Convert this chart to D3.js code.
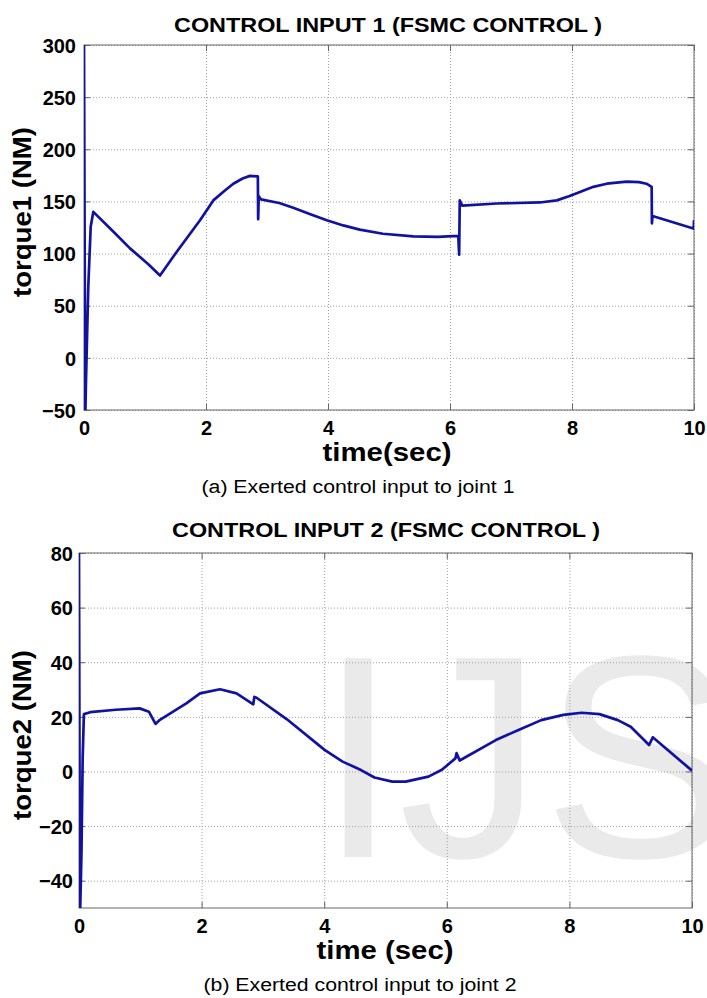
<!DOCTYPE html>
<html>
<head>
<meta charset="utf-8">
<script src="https://cdn.jsdelivr.net/npm/d3@7"></script>
<style>
  body { margin: 0; background: #fff; }
  svg text { font-family: "Liberation Sans", Arial, sans-serif; }
</style>
</head>
<body>
<svg id="chart"></svg>
<script>
// tick values
const xTicks = [0, 2, 4, 6, 8, 10];
const yTicks1 = [-50, 0, 50, 100, 150, 200, 250, 300];
const yTicks2 = [-40, -20, 0, 20, 40, 60, 80];

// joint 1 torque
const time1 = [0, 0.02, 0.033, 0.07, 0.11, 0.153, 0.5, 0.754, 1.05, 1.246, 1.5, 1.902, 2.12, 2.3, 2.448, 2.6, 2.72, 2.85,
  2.855, 2.865, 2.9, 3.2, 3.43, 3.7, 3.98, 4.25, 4.52, 4.9, 5.4, 5.8, 6.136, 6.15, 6.16, 6.2, 6.765, 7.475, 7.75,
  7.95, 8.13, 8.35, 8.57, 8.897, 9.1, 9.22, 9.306, 9.31, 9.32, 9.99, 9.995, 10];
const torque1 = [300, -60, -21, 68, 126, 140, 120, 105, 90, 79, 100, 132, 151, 160, 167, 172, 174.5, 174,
  133, 155, 152, 148.5, 144, 138, 132, 127, 123, 119, 116.5, 116, 117, 99, 151, 146, 148, 149, 151,
  155, 159, 164, 167, 169, 168.5, 167, 164, 129, 136, 124, 124, 132];

// joint 2 torque
const time2 = [0, 0.015, 0.04, 0.06, 0.08, 0.183, 0.6, 0.99, 1.14, 1.248, 1.32, 1.757, 1.974, 2.3, 2.57, 2.843,
  2.86, 2.897, 3.387, 4.006, 4.3, 4.6, 4.82, 5.11, 5.33, 5.7, 5.92, 6.14, 6.16, 6.21, 6.8, 7.17, 7.54, 7.9, 8.2,
  8.49, 8.79, 9.0, 9.3, 9.36, 10];
const torque2 = [80, -55, -30, 5, 21, 21.7, 22.6, 23.1, 21.9, 17.4, 18.9, 25, 28.6, 30.1, 28.6, 24.6,
  27.3, 27, 19.2, 7.9, 3.6, 0.5, -2.2, -3.7, -3.7, -1.9, 0.6, 4.8, 6.7, 4, 11.5, 15.2, 18.8, 20.7, 21.5,
  21, 18.8, 16.4, 9.7, 12.5, 0.3];

const width = 707;
const height = 998;

const svg = d3.select("#chart")
  .attr("width", width)
  .attr("height", height)
  .attr("viewBox", [0, 0, width, height]);

svg.append("rect").attr("width", width).attr("height", height).attr("fill", "#fff");

// watermark behind the lower plot (runs off the right edge, as in the source)
svg.append("text")
  .attr("x", 318)
  .attr("y", 857)
  .attr("font-size", 289)
  .attr("fill", "#eaeaea")
  .text("IJS");

function drawPanel(o) {
  const x = d3.scaleLinear().domain([0, 10]).range([o.left, o.right]);
  const y = d3.scaleLinear().domain(o.yDomain).range([o.bottom, o.top]);
  const w = o.right - o.left;
  const h = o.bottom - o.top;

  // grid
  svg.append("g")
    .attr("transform", `translate(0,${o.bottom})`)
    .call(d3.axisBottom(x).tickValues(xTicks).tickSize(-h).tickFormat(""))
    .call(g => g.select(".domain").remove())
    .call(g => g.selectAll("line").attr("stroke", "#a0a0a0").attr("stroke-dasharray", "1,2"));
  svg.append("g")
    .attr("transform", `translate(${o.left},0)`)
    .call(d3.axisLeft(y).tickValues(o.yTicks).tickSize(-w).tickFormat(""))
    .call(g => g.select(".domain").remove())
    .call(g => g.selectAll("line").attr("stroke", "#a0a0a0").attr("stroke-dasharray", "1,2"));

  // box and inward ticks
  svg.append("rect")
    .attr("x", o.left).attr("y", o.top).attr("width", w).attr("height", h)
    .attr("fill", "none").attr("stroke", "#666").attr("stroke-width", 1);

  svg.append("g")
    .attr("transform", `translate(0,${o.bottom})`)
    .call(d3.axisBottom(x).tickValues(xTicks).tickSizeInner(-6).tickSizeOuter(0).tickPadding(0))
    .call(g => g.select(".domain").remove())
    .call(g => g.selectAll("line").attr("stroke", "#666"))
    .call(g => g.selectAll("text")
      .attr("y", 25).attr("dy", 0)
      .attr("font-size", 20).attr("font-weight", "bold").attr("fill", "#000"));
  svg.append("g")
    .attr("transform", `translate(0,${o.top})`)
    .call(d3.axisTop(x).tickValues(xTicks).tickSizeInner(-6).tickSizeOuter(0).tickFormat(""))
    .call(g => g.select(".domain").remove())
    .call(g => g.selectAll("line").attr("stroke", "#666"));
  svg.append("g")
    .attr("transform", `translate(${o.left},0)`)
    .call(d3.axisLeft(y).tickValues(o.yTicks).tickSizeInner(-6).tickSizeOuter(0).tickPadding(0))
    .call(g => g.select(".domain").remove())
    .call(g => g.selectAll("line").attr("stroke", "#666"))
    .call(g => g.selectAll("text")
      .attr("x", -o.labelPad).attr("dy", "0.36em")
      .attr("font-size", 20).attr("font-weight", "bold").attr("fill", "#000"));
  svg.append("g")
    .attr("transform", `translate(${o.right},0)`)
    .call(d3.axisRight(y).tickValues(o.yTicks).tickSizeInner(-6).tickSizeOuter(0).tickFormat(""))
    .call(g => g.select(".domain").remove())
    .call(g => g.selectAll("line").attr("stroke", "#666"));

  // curve
  const clipId = "clip" + o.id;
  svg.append("clipPath").attr("id", clipId)
    .append("rect").attr("x", o.left).attr("y", o.top).attr("width", w).attr("height", h);

  const pts = o.t.map((t, i) => [t, o.v[i]]);
  svg.append("path")
    .datum(pts)
    .attr("clip-path", `url(#${clipId})`)
    .attr("fill", "none")
    .attr("stroke", "#1212a2")
    .attr("stroke-width", 2.7)
    .attr("stroke-linejoin", "round")
    .attr("d", d3.line().x(d => x(d[0])).y(d => y(d[1])));

  // texts
  svg.append("text")
    .attr("x", o.titleX).attr("y", o.titleY)
    .attr("text-anchor", "middle")
    .attr("font-size", 21).attr("font-weight", "bold")
    .attr("textLength", 428).attr("lengthAdjust", "spacingAndGlyphs")
    .text(o.title);

  svg.append("text")
    .attr("x", o.xLabelX).attr("y", o.xLabelY)
    .attr("text-anchor", "middle")
    .attr("font-size", 25).attr("font-weight", "bold")
    .attr("textLength", o.xLabelLen).attr("lengthAdjust", "spacingAndGlyphs")
    .text(o.xLabel);

  svg.append("text")
    .attr("transform", `translate(${o.yLabelX},${o.yLabelY}) rotate(-90)`)
    .attr("text-anchor", "middle")
    .attr("font-size", 26).attr("font-weight", "bold")
    .attr("textLength", 170).attr("lengthAdjust", "spacingAndGlyphs")
    .text(o.yLabel);

  svg.append("text")
    .attr("x", o.capX).attr("y", o.capY)
    .attr("text-anchor", "middle")
    .attr("font-size", 18)
    .attr("textLength", 313).attr("lengthAdjust", "spacingAndGlyphs")
    .text(o.caption);
}

drawPanel({
  id: 1, left: 84, right: 694, top: 45, bottom: 410,
  yDomain: [-50, 300], yTicks: yTicks1, labelPad: 8,
  t: time1, v: torque1,
  title: "CONTROL INPUT 1 (FSMC CONTROL )", titleX: 388, titleY: 32,
  xLabel: "time(sec)", xLabelX: 387, xLabelY: 461, xLabelLen: 129,
  yLabel: "torque1 (NM)", yLabelX: 31, yLabelY: 212,
  caption: "(a) Exerted control input to joint 1", capX: 358, capY: 493
});

drawPanel({
  id: 2, left: 79, right: 692, top: 553, bottom: 908,
  yDomain: [-50, 80], yTicks: yTicks2, labelPad: 6,
  t: time2, v: torque2,
  title: "CONTROL INPUT 2 (FSMC CONTROL )", titleX: 386, titleY: 537,
  xLabel: "time (sec)", xLabelX: 385, xLabelY: 959, xLabelLen: 137,
  yLabel: "torque2 (NM)", yLabelX: 31, yLabelY: 735,
  caption: "(b) Exerted control input to joint 2", capX: 360, capY: 991
});
</script>
</body>
</html>
